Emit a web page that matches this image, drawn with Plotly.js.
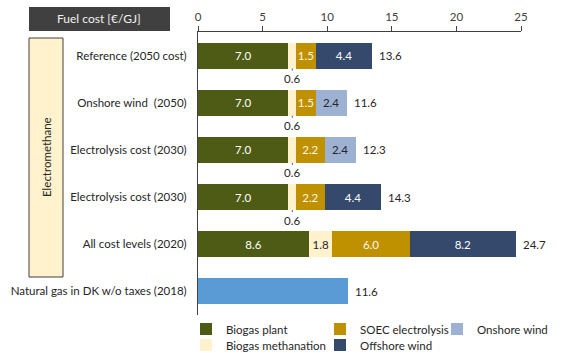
<!DOCTYPE html>
<html>
<head>
<meta charset="utf-8">
<script src="https://cdn.plot.ly/plotly-3.0.1.min.js"></script>
<style>
  html, body { margin: 0; padding: 0; background: #ffffff; }
  #chart { width: 561px; height: 353px; }
</style>
</head>
<body>
<div id="chart"></div>
<script>
// Fuel cost breakdown per scenario [€/GJ]
const categories = [
  'Reference (2050 cost)',
  'Onshore wind  (2050)',
  'Electrolysis cost (2030)',
  'Electrolysis cost (2030)',
  'All cost levels (2020)',
  'Natural gas in DK w/o taxes (2018)'
];
const biogasPlant       = [7.0, 7.0, 7.0, 7.0, 8.6, null];
const biogasMethanation = [0.6, 0.6, 0.6, 0.6, 1.8, null];
const soecElectrolysis  = [1.5, 1.5, 2.2, 2.2, 6.0, null];
const offshoreWind      = [4.4, null, null, 4.4, 8.2, null];
const onshoreWind       = [null, 2.4, 2.4, null, null, null];
const naturalGas        = [null, null, null, null, null, 11.6];
const totals            = [13.6, 11.6, 12.3, 14.3, 24.7, 11.6];
const xTicks            = [0, 5, 10, 15, 20, 25];

const FONT = 'Lato, "Open Sans", sans-serif';
const FS = 11.5;
const TXT = '#404040';
const rows = categories.map((_, i) => i);

// page geometry helpers (pixel -> paper)
const W = 561, H = 353;
const M = { l: 198, r: 40, t: 32, b: 38, autoexpand: false };
const PW = W - M.l - M.r, PH = H - M.t - M.b;
const px = x => (x - M.l) / PW;
const py = y => (H - M.b - y) / PH;

const fmt = v => (v == null ? '' : v.toFixed(1));

function segment(name, values, color, textColor, legendId, minInside) {
  return {
    type: 'bar', orientation: 'h', name: name,
    x: values, y: rows, width: 0.55,
    marker: { color: color, line: { width: 0 } },
    text: values.map(v => (v != null && v >= minInside) ? fmt(v) : ''),
    textposition: 'inside', insidetextanchor: 'middle', constraintext: 'none', textangle: 0,
    textfont: { family: FONT, size: FS, color: textColor },
    hoverinfo: 'skip', legend: legendId, showlegend: true, cliponaxis: false
  };
}

const traces = [
  segment('Biogas plant', biogasPlant, '#4E5B14', '#ffffff', 'legend', 0),
  segment('Biogas methanation', biogasMethanation, '#FFF2CC', '#262626', 'legend2', 1),
  segment('SOEC electrolysis', soecElectrolysis, '#BF9000', '#FFF8E6', 'legend3', 0),
  segment('Offshore wind', offshoreWind, '#34496B', '#ffffff', 'legend4', 0),
  segment('Onshore wind', onshoreWind, '#9DB1D3', '#262626', 'legend5', 0),
  {
    type: 'bar', orientation: 'h', name: 'Natural gas',
    x: naturalGas, y: rows, width: 0.55,
    marker: { color: '#5B9BD5' }, showlegend: false, hoverinfo: 'skip'
  }
];

// end of each stacked bar
const barEnds = rows.map(i =>
  [biogasPlant, biogasMethanation, soecElectrolysis, offshoreWind, onshoreWind, naturalGas]
    .reduce((s, arr) => s + (arr[i] || 0), 0));

const annotations = [];

// totals to the right of each bar
rows.forEach(i => {
  annotations.push({
    x: barEnds[i], y: i, xref: 'x', yref: 'y', text: fmt(totals[i]),
    showarrow: false, xanchor: 'left', yanchor: 'middle', xshift: 5,
    font: { family: FONT, size: FS, color: '#262626' }
  });
});

// small methanation shares, labelled under the bar
rows.forEach(i => {
  const v = biogasMethanation[i];
  if (v != null && v < 1) {
    annotations.push({
      x: biogasPlant[i] + v / 2, y: i, xref: 'x', yref: 'y', text: fmt(v),
      showarrow: true, arrowhead: 0, arrowwidth: 1, arrowcolor: '#595959',
      ax: 0, ay: 23, standoff: 13,
      font: { family: FONT, size: FS, color: '#262626' }
    });
  }
});

// header box label and group label
annotations.push({
  x: px(99.5), y: py(19), xref: 'paper', yref: 'paper', text: 'Fuel cost [€/GJ]',
  xanchor: 'center', yanchor: 'middle',
  showarrow: false, font: { family: FONT, size: 12, color: '#F2F2F2' }
});
annotations.push({
  x: px(46), y: py(157), xref: 'paper', yref: 'paper', text: 'Electromethane',
  xanchor: 'center', yanchor: 'middle',
  textangle: -90, showarrow: false, font: { family: FONT, size: FS, color: '#262626' }
});

const shapes = [
  { type: 'rect', xref: 'paper', yref: 'paper', x0: px(29), x1: px(170), y0: py(31), y1: py(7),
    fillcolor: '#404040', line: { width: 0 }, layer: 'below' },
  { type: 'rect', xref: 'paper', yref: 'paper', x0: px(29), x1: px(63), y0: py(277), y1: py(38),
    fillcolor: '#FFF2CC', line: { color: '#404040', width: 1 }, layer: 'below' }
];

function legendAt(xPix, yPix) {
  return {
    x: px(xPix), y: py(yPix), xref: 'paper', yref: 'paper',
    xanchor: 'left', yanchor: 'middle', orientation: 'v',
    bgcolor: 'rgba(0,0,0,0)', borderwidth: 0,
    font: { family: FONT, size: FS, color: '#262626' }
  };
}

const layout = {
  width: W, height: H,
  margin: M,
  paper_bgcolor: '#ffffff', plot_bgcolor: '#ffffff',
  barmode: 'stack',
  font: { family: FONT, size: FS, color: TXT },
  xaxis: {
    side: 'top', range: [0, 25], tickvals: xTicks, ticktext: xTicks.map(String),
    showgrid: false, zeroline: false, showline: true, linecolor: '#404040', linewidth: 1,
    ticks: 'outside', ticklen: 5, tickcolor: '#404040',
    tickfont: { family: FONT, size: FS, color: TXT }, fixedrange: true
  },
  yaxis: {
    range: [5.5, -0.5], tickvals: rows, ticktext: categories,
    showgrid: false, zeroline: false, showline: true, linecolor: '#404040', linewidth: 1,
    ticks: '', ticklabelstandoff: 8,
    tickfont: { family: FONT, size: FS, color: '#262626' }, fixedrange: true
  },
  legend: legendAt(186, 329),
  legend2: legendAt(186, 345),
  legend3: legendAt(320, 329),
  legend4: legendAt(320, 345),
  legend5: legendAt(437, 329),
  annotations: annotations,
  shapes: shapes,
  showlegend: true
};

Plotly.newPlot('chart', traces, layout, { displayModeBar: false, staticPlot: true });
</script>
</body>
</html>
